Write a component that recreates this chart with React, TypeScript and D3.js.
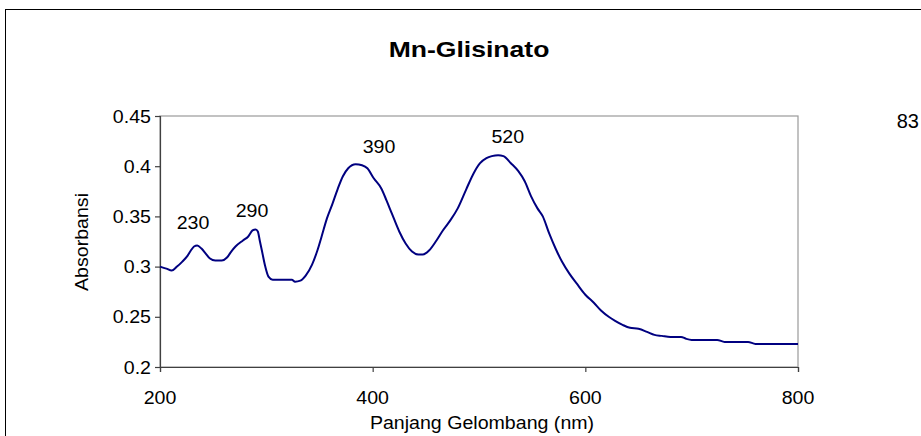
import React, { useEffect, useRef } from 'react'
import * as d3 from 'd3'

const width = 921
const height = 436
const margin = { top: 116, right: 123, bottom: 69, left: 160 }

const wavelength = [
  200, 206, 211, 216, 221, 226, 229, 232, 235, 239, 243, 247, 252, 258, 263, 267, 271, 278, 283, 287,
  290, 292, 294, 296, 299, 302, 306, 315, 324, 327, 332, 337, 343, 348, 352, 357, 362, 367, 372, 377,
  384, 390, 395, 401, 408, 413, 418, 425, 431, 437, 443, 447, 453, 460, 466, 473, 480, 488, 495, 501,
  507, 512, 518, 523, 530, 537, 543, 549, 555, 560, 566, 572, 578, 585, 592, 600, 608, 615, 622, 628,
  635, 642, 650, 658, 665, 672, 680, 690, 695, 700, 712, 724, 731, 742, 753, 760, 780, 800,
]
const absorbance = [
  0.300, 0.298, 0.296, 0.300, 0.305, 0.311, 0.316, 0.320, 0.321, 0.318, 0.313, 0.308, 0.306, 0.306, 0.309, 0.315, 0.320, 0.326, 0.330, 0.336,
  0.337, 0.335, 0.325, 0.315, 0.300, 0.290, 0.287, 0.287, 0.287, 0.285, 0.286, 0.291, 0.302, 0.316, 0.330, 0.348, 0.362, 0.377, 0.390, 0.398,
  0.402, 0.401, 0.398, 0.388, 0.378, 0.366, 0.353, 0.335, 0.323, 0.315, 0.312, 0.312, 0.316, 0.326, 0.336, 0.346, 0.358, 0.377, 0.393, 0.403,
  0.408, 0.410, 0.411, 0.410, 0.403, 0.395, 0.385, 0.370, 0.358, 0.350, 0.333, 0.318, 0.305, 0.293, 0.283, 0.272, 0.264, 0.256, 0.250, 0.246,
  0.242, 0.239, 0.238, 0.235, 0.232, 0.231, 0.230, 0.230, 0.228, 0.227, 0.227, 0.227, 0.225, 0.225, 0.225, 0.223, 0.223, 0.223,
]

const xTicks = [200, 400, 600, 800]
const yTicks = [0.2, 0.25, 0.3, 0.35, 0.4, 0.45]
// peak annotations, anchored in data units
const peakLabels = ['230', '290', '390', '520']
const peakX = [231, 286.5, 406, 527]
const peakY = [0.3377, 0.3497, 0.4136, 0.4236]

const font = 'Arial, "Liberation Sans", sans-serif'
const stretch = 1.12

const App = () => {
  const xAxis = useRef<SVGGElement>(null)
  const yAxis = useRef<SVGGElement>(null)

  const xScale = d3.scaleLinear().domain([200, 800]).range([margin.left, width - margin.right])
  const yScale = d3.scaleLinear().domain([0.2, 0.45]).range([height - margin.bottom, margin.top])

  const points = wavelength.map((w, i) => [w, absorbance[i]] as [number, number])
  const lineGen = d3.line<[number, number]>()
    .x(d => xScale(d[0]))
    .y(d => yScale(d[1]))
    .curve(d3.curveMonotoneX)

  useEffect(() => {
    const ax = d3.axisBottom(xScale).tickValues(xTicks).tickSize(5).tickFormat(() => '')
    const ay = d3.axisLeft(yScale).tickValues(yTicks).tickSize(5).tickFormat(() => '')
    d3.select(xAxis.current).call(ax as any)
    d3.select(yAxis.current).call(ay as any)
    d3.selectAll('.ax path, .ax line').attr('stroke', '#404040').attr('stroke-width', 1.2)
  }, [])

  // text in the source is a bit wider than Arial
  const sx = (x: number, y: number, k = stretch) => `translate(${x},${y}) scale(${k},1)`

  return (
    <svg width={width} height={height} style={{ position: 'absolute', left: 0, top: 0, background: '#fff' }} fontFamily={font}>
      <rect x={5.5} y={9.5} width={width + 10} height={height + 10} fill='none' stroke='#000' strokeWidth={1} />
      <text x={919} y={128} textAnchor='end' fontSize={20} fill='#000'>83</text>

      <text transform={sx(469, 57, 1.18)} textAnchor='middle' fontSize={22.5} fontWeight='bold'>Mn-Glisinato</text>

      <rect x={margin.left} y={margin.top} width={width - margin.left - margin.right} height={height - margin.top - margin.bottom}
        fill='none' stroke='#9a9a9a' strokeWidth={1.2} />
      <g className='ax' ref={xAxis} transform={`translate(0, ${height - margin.bottom})`}></g>
      <g className='ax' ref={yAxis} transform={`translate(${margin.left}, 0)`}></g>

      {yTicks.map(t => (
        <text key={t} transform={sx(151, yScale(t) + 6.5)} textAnchor='end' fontSize={17.5}>{String(t)}</text>
      ))}
      {xTicks.map(t => (
        <text key={t} transform={sx(xScale(t), 404)} textAnchor='middle' fontSize={17.5}>{t}</text>
      ))}
      <text transform={sx(482, 429)} textAnchor='middle' fontSize={17.5}>Panjang Gelombang (nm)</text>
      <text transform={`translate(88, 242) rotate(-90) scale(${stretch},1)`} textAnchor='middle' fontSize={17.5}>Absorbansi</text>

      <path d={lineGen(points) || ''} fill='none' stroke='#000080' strokeWidth={2} />

      {peakLabels.map((p, i) => (
        <text key={p} transform={sx(xScale(peakX[i]), yScale(peakY[i]))} textAnchor='middle' fontSize={17.5}>{p}</text>
      ))}
    </svg>
  )
}

export default App
